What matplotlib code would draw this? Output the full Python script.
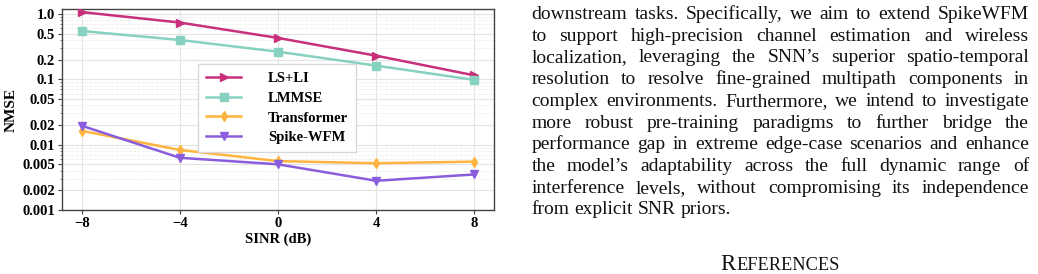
import matplotlib
matplotlib.use('Agg')
import matplotlib.pyplot as plt
from matplotlib.ticker import LogLocator, NullFormatter

# NMSE vs SINR
sinr = [-8, -4, 0, 4, 8]
nmse_lsli = [1.07, 0.74, 0.43, 0.23, 0.115]
nmse_lmmse = [0.55, 0.40, 0.265, 0.162, 0.098]
nmse_transformer = [0.0163, 0.0083, 0.0056, 0.0052, 0.0055]
nmse_spike = [0.0195, 0.0063, 0.0050, 0.0028, 0.0035]

series_names = ['LS+LI', 'LMMSE', 'Transformer', 'Spike-WFM']
ytick_vals = [1.0, 0.5, 0.2, 0.1, 0.05, 0.02, 0.01, 0.005, 0.002, 0.001]
ytick_labels = ['1.0', '0.5', '0.2', '0.1', '0.05', '0.02', '0.01', '0.005',
                '0.002', '0.001']

para_lines = [
    'downstream tasks. Specifically, we aim to extend SpikeWFM',
    'to support high-precision channel estimation and wireless',
    'localization, leveraging the SNN\u2019s superior spatio-temporal',
    'resolution to resolve fine-grained multipath components in',
    'complex environments. Furthermore, we intend to investigate',
    'more robust pre-training paradigms to further bridge the',
    'performance gap in extreme edge-case scenarios and enhance',
    'the model\u2019s adaptability across the full dynamic range of',
    'interference levels, without compromising its independence',
    'from explicit SNR priors.',
]

W, H = 1038, 274
plt.rcParams['font.family'] = ['Liberation Serif', 'DejaVu Serif']

fig = plt.figure(figsize=(W / 100, H / 100), dpi=100)
ax = fig.add_axes([62 / W, 1 - 210 / H, 432 / W, 200.7 / H])

styles = [
    ('#c9307c', '>', 5.5),
    ('#86d1bf', 's', 5.5),
    ('#ffb43f', 'd', 5.5),
    ('#8a5ddc', 'v', 5.5),
]
for vals, name, (c, m, ms) in zip(
        [nmse_lsli, nmse_lmmse, nmse_transformer, nmse_spike],
        series_names, styles):
    ax.plot(sinr, vals, color=c, marker=m, markersize=ms, linewidth=1.8,
            label=name, zorder=3)

ax.set_yscale('log')
ax.set_ylim(0.001, 1.18)
ax.set_xlim(-8.8, 8.8)
ax.set_yticks(ytick_vals)
ax.set_yticklabels(ytick_labels)
ax.yaxis.set_minor_locator(LogLocator(base=10, subs=range(2, 10)))
ax.yaxis.set_minor_formatter(NullFormatter())
ax.set_xticks(sinr)
ax.set_xticklabels(['\u22128', '\u22124', '0', '4', '8'])
for lab in ax.get_xticklabels() + ax.get_yticklabels():
    lab.set_fontweight('bold')
    lab.set_fontsize(10.5)
ax.tick_params(axis='both', which='major', length=3, width=0.8,
               color='#444444', pad=2)
ax.tick_params(axis='y', which='minor', length=1.5, width=0.5,
               color='#444444')

ax.grid(True, which='major', color='#e3e3e3', linewidth=0.8)
ax.grid(True, which='minor', axis='y', color='#eeeeee', linewidth=0.6,
        linestyle='--')
for sp in ax.spines.values():
    sp.set_color('#444444')
    sp.set_linewidth(1.0)

ax.set_xlabel('SINR (dB)', fontsize=10.5, fontweight='bold', labelpad=2)
ax.set_ylabel('NMSE', fontsize=11, fontweight='bold', labelpad=3)

ax.legend(loc='center', bbox_to_anchor=(0.498, 0.508),
          prop={'weight': 'bold', 'size': 10.5},
          handlelength=2.4, handletextpad=1.8, labelspacing=0.45,
          borderpad=0.55, frameon=True, edgecolor='#d8d8d8',
          fancybox=False, framealpha=1.0)

# justified paragraph on the right
x0, x1 = 531.5, 1029.0
top, lead = 19.0, 21.7
fs = 14.0
r = fig.canvas.get_renderer()
space = 0.25 * fs * 100 / 72
for i, line in enumerate(para_lines):
    y = 1 - (top + i * lead) / H
    words = line.split(' ')
    objs = [fig.text(0, y, w, fontsize=fs, va='baseline', ha='left',
                     color='#111111') for w in words]
    widths = [o.get_window_extent(r).width for o in objs]
    if i == len(para_lines) - 1:
        gap = space
    else:
        gap = (x1 - x0 - sum(widths)) / (len(words) - 1)
    x = x0
    for o, w in zip(objs, widths):
        o.set_x(x / W)
        x += w + gap

# small-caps heading
ref_fs = 16.5
ref_y = 1 - 270 / H
t1 = fig.text(0, ref_y, 'R', fontsize=ref_fs, va='baseline', color='#111111')
t2 = fig.text(0, ref_y, 'EFERENCES', fontsize=ref_fs * 0.8, va='baseline',
              color='#111111')
w1 = t1.get_window_extent(r).width
w2 = t2.get_window_extent(r).width
cx = 780.0
t1.set_x((cx - (w1 + w2) / 2) / W)
t2.set_x((cx - (w1 + w2) / 2 + w1) / W)

fig.savefig('out.png', dpi=100)
